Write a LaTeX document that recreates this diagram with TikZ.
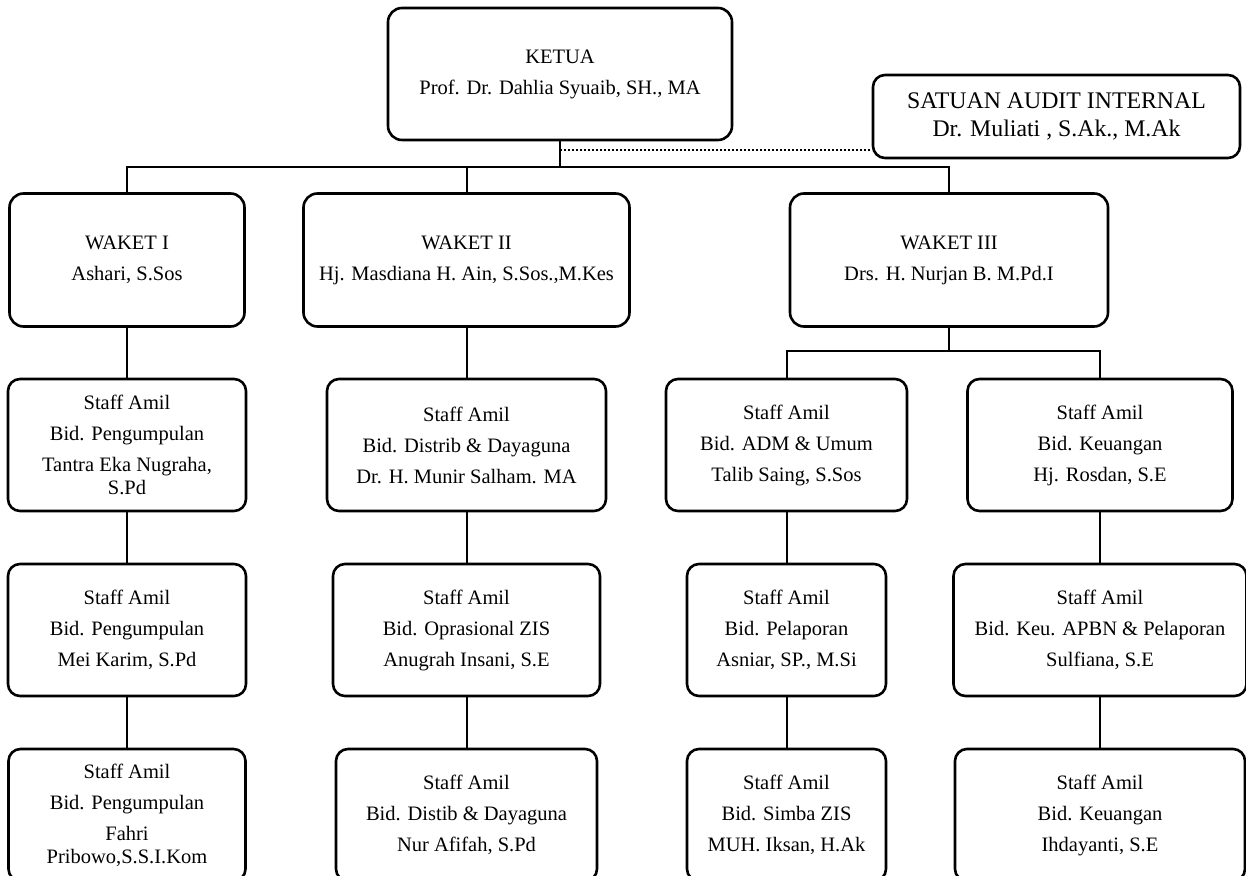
\documentclass[tikz,border=0pt]{standalone}
\usepackage{fontspec}
\setmainfont{Liberation Serif}
\usepackage{tikz}
\usetikzlibrary{positioning}

\begin{document}
\begin{tikzpicture}[x=0.5pt, y=-0.5pt, font=\fontsize{10.25}{11.5}\selectfont,
        unit/.style={draw, line width=1.3pt, rounded corners=7pt, align=center, inner sep=0pt},
        staff/.style={unit, rounded corners=6pt, minimum height=66pt},
        link/.style={line width=1pt}]
        \useasboundingbox (0,0) rectangle (1246,876);

        % Ketua and audit
        \node[unit, minimum width=172pt, minimum height=66pt] (ketua) at (560,74) {KETUA\\[4pt]Prof. Dr. Dahlia Syuaib, SH., MA};
        \node[unit, rounded corners=6pt, minimum width=183.5pt, minimum height=41.5pt, font=\fontsize{11.9}{14}\selectfont] (audit) at (1056.5,116.5) {SATUAN AUDIT INTERNAL\\Dr. Muliati , S.Ak., M.Ak};

        % Waket
        \node[unit, minimum width=117.5pt, minimum height=66.5pt] (waket1) at (127,260) {WAKET I\\[4pt]Ashari, S.Sos};
        \node[unit, minimum width=163pt, minimum height=66.5pt] (waket2) at (466.5,260) {WAKET II\\[4pt]Hj. Masdiana H. Ain, S.Sos.,M.Kes};
        \node[unit, minimum width=159pt, minimum height=66.5pt] (waket3) at (949,260) {WAKET III\\[4pt]Drs. H. Nurjan B. M.Pd.I};

        % Staff, first row
        \node[staff, minimum width=119pt] (kumpul1) at (127,445) {Staff Amil\\[4pt]Bid. Pengumpulan\\[4pt]Tantra Eka Nugraha,\\S.Pd};
        \node[staff, minimum width=139.5pt] (distrib1) at (466.5,445) {Staff Amil\\[4pt]Bid. Distrib \& Dayaguna\\[4pt]Dr. H. Munir Salham. MA};
        \node[staff, minimum width=120.5pt] (adm) at (786.5,445) {Staff Amil\\[4pt]Bid. ADM \& Umum\\[4pt]Talib Saing, S.Sos};
        \node[staff, minimum width=132.5pt] (keu1) at (1100,445) {Staff Amil\\[4pt]Bid. Keuangan\\[4pt]Hj. Rosdan, S.E};

        % Staff, second row
        \node[staff, minimum width=119pt] (kumpul2) at (127,630) {Staff Amil\\[4pt]Bid. Pengumpulan\\[4pt]Mei Karim, S.Pd};
        \node[staff, minimum width=133.5pt] (oprasional) at (466.5,630) {Staff Amil\\[4pt]Bid. Oprasional ZIS\\[4pt]Anugrah Insani, S.E};
        \node[staff, minimum width=99.5pt] (lapor) at (786.5,630) {Staff Amil\\[4pt]Bid. Pelaporan\\[4pt]Asniar, SP., M.Si};
        \node[staff, minimum width=146.5pt] (apbn) at (1100,630) {Staff Amil\\[4pt]Bid. Keu. APBN \& Pelaporan\\[4pt]Sulfiana, S.E};

        % Staff, third row (runs past the bottom edge)
        \node[staff, minimum width=118.5pt] (kumpul3) at (127,815) {Staff Amil\\[4pt]Bid. Pengumpulan\\[4pt]Fahri\\Pribowo,S.S.I.Kom};
        \node[staff, minimum width=130.5pt] (distib2) at (466.5,815) {Staff Amil\\[4pt]Bid. Distib \& Dayaguna\\[4pt]Nur Afifah, S.Pd};
        \node[staff, minimum width=99.5pt] (simba) at (786.5,815) {Staff Amil\\[4pt]Bid. Simba ZIS\\[4pt]MUH. Iksan, H.Ak};
        \node[staff, minimum width=145pt] (keu2) at (1100,815) {Staff Amil\\[4pt]Bid. Keuangan\\[4pt]Ihdayanti, S.E};

        % Lines
        \coordinate (pusat) at (560,167);
        \coordinate (titik) at (560,150);
        \coordinate (cabang) at (949,351);
        \draw[link] (ketua) -- (pusat);
        \draw[link] (waket1.north) |- (pusat) -| (waket3.north);
        \draw[link] (waket2.north) -- (waket2.north |- pusat);
        \draw[link, densely dotted] (titik) -- (titik -| audit.west);
        \draw[link] (waket3) -- (cabang);
        \draw[link] (adm.north) |- (cabang) -| (keu1.north);
        \draw[link] (waket1) -- (kumpul1) (kumpul1) -- (kumpul2) (kumpul2) -- (kumpul3);
        \draw[link] (waket2) -- (distrib1) (distrib1) -- (oprasional) (oprasional) -- (distib2);
        \draw[link] (adm) -- (lapor) (lapor) -- (simba);
        \draw[link] (keu1) -- (apbn) (apbn) -- (keu2);
\end{tikzpicture}
\end{document}
